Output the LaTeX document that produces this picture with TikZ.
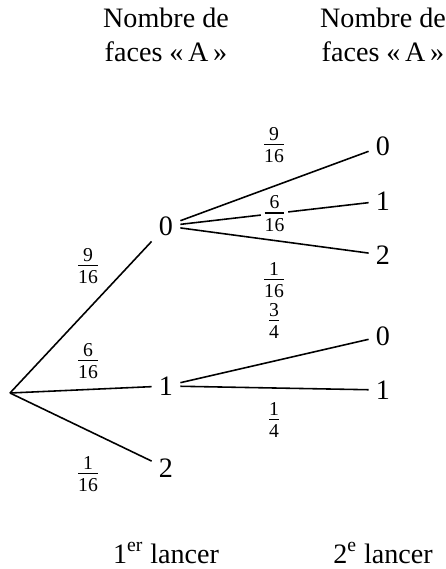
\documentclass[tikz,border=0pt]{standalone}
\usepackage{amsmath}
\usepackage{fontspec}
\setmainfont{Liberation Serif}
\usetikzlibrary{positioning}

\newcommand{\pfrac}[2]{$\genfrac{}{}{0.9pt}{1}{\text{#1}}{\text{#2}}$}

\begin{document}
\begin{tikzpicture}[
  x=0.02cm, y=-0.02cm,
  font=\fontsize{16}{19}\selectfont,
  lev/.style={inner sep=4pt},
  prob/.style={inner sep=1pt},
  head/.style={align=center},
  branch/.style={line width=0.9pt, draw=black}
]
\useasboundingbox (0,0) rectangle (446,569);

%  Headings 
\node[head] (h1) at (166,35) {Nombre de\\faces «\,A\,»};
\node[head] (h2) at (383,35) {Nombre de\\faces «\,A\,»};

%  First throw 
\coordinate (r) at (10,393);
\node[lev] (a0) at (166,226) {0};
\node[lev] (a1) at (166,386) {1};
\node[lev] (a2) at (166,468) {2};

%  Second throw 
\node[lev] (b0) at (383,146) {0};
\node[lev] (b1) at (383,201) {1};
\node[lev] (b2) at (383,255) {2};
\node[lev] (c0) at (383,336) {0};
\node[lev] (c1) at (383,390) {1};

%  Branches 
\draw[branch] (r) -- (a0);
\draw[branch] (r) -- (a1);
\draw[branch] (r) -- (a2);
\draw[branch] (a0) -- (b0);
\draw[branch] (a0) -- (b1) node[prob, fill=white, pos=0.5] (p01) {\pfrac{6}{16}};
\draw[branch] (a0) -- (b2);
\draw[branch] (a1) -- (c0);
\draw[branch] (a1) -- (c1);

%  Probabilities 
\node[prob] (p0) at (88,266) {\pfrac{9}{16}};
\node[prob] (p1) at (88,361) {\pfrac{6}{16}};
\node[prob] (p2) at (88,474) {\pfrac{1}{16}};
\node[prob] (p00) at (274,145) {\pfrac{9}{16}};
\node[prob] (p02) at (274,280) {\pfrac{1}{16}};
\node[prob] (p10) at (274,321) {\pfrac{3}{4}};
\node[prob] (p11) at (274,420) {\pfrac{1}{4}};

%  Throws 
\node (t1) at (166,553) {1\textsuperscript{er} lancer};
\node (t2) at (383,553) {2\textsuperscript{e} lancer};

\end{tikzpicture}
\end{document}
